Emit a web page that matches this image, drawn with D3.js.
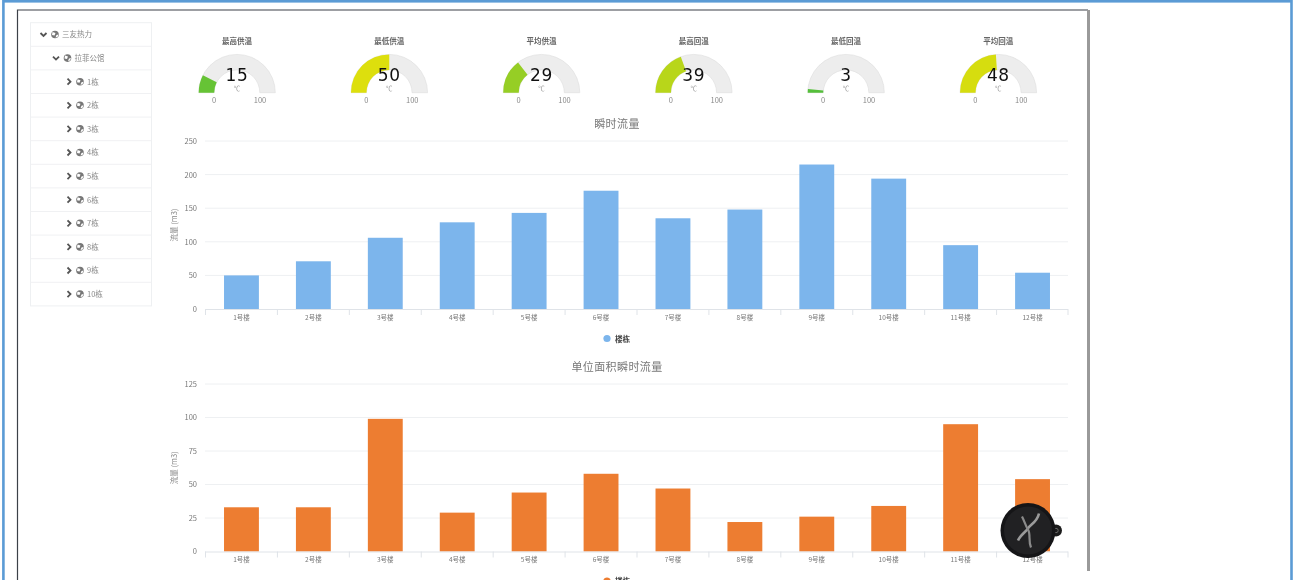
<!DOCTYPE html>
<html>
<head>
<meta charset="utf-8">
<script src="https://cdn.jsdelivr.net/npm/d3@7"></script>
<style>
  html, body { margin: 0; padding: 0; background: #fff; overflow: hidden; }
  svg { display: block; filter: blur(0.5px); }
  text { font-family: "Noto Sans CJK SC", "Noto Sans", sans-serif; }
  .axis path, .axis line { stroke: #dfe3e8; }
  .axis text { fill: #777; font-size: 7.5px; }
</style>
</head>
<body>
<div id="chart"></div>
<script>
// sidebar tree
var treeRows = ["三友热力", "拉菲公馆", "1栋", "2栋", "3栋", "4栋", "5栋", "6栋", "7栋", "8栋", "9栋", "10栋"];
var treeDepth = [0, 1, 2, 2, 2, 2, 2, 2, 2, 2, 2, 2];

// gauges
var gaugeTitles = ["最高供温", "最低供温", "平均供温", "最高回温", "最低回温", "平均回温"];
var gaugeValues = [15, 50, 29, 39, 3, 48];

// bar charts
var buildings = ["1号楼", "2号楼", "3号楼", "4号楼", "5号楼", "6号楼", "7号楼", "8号楼", "9号楼", "10号楼", "11号楼", "12号楼"];
var flowValues = [50, 71, 106, 129, 143, 176, 135, 148, 215, 194, 95, 54];
var flowTicks = [0, 50, 100, 150, 200, 250];
var unitFlowValues = [33, 33, 99, 29, 44, 58, 47, 22, 26, 34, 95, 54];
var unitFlowTicks = [0, 25, 50, 75, 100, 125];

var w = 1293, h = 580;
var svg = d3.select("#chart").append("svg").attr("width", w).attr("height", h);

// outer blue frame and the inner screenshot edges
svg.append("rect").attr("x", 3.4).attr("y", 1.3).attr("width", w - 4.9).attr("height", h + 10)
   .attr("fill", "none").attr("stroke", "#5b9bd5").attr("stroke-width", 2.6);
svg.append("path").attr("d", "M17.5,580V10H1088")
   .attr("fill", "none").attr("stroke", "#3c4148").attr("stroke-width", 1.2);
svg.append("rect").attr("x", 1087).attr("y", 10).attr("width", 3).attr("height", 561).attr("fill", "#9a9a9a");

// tree
var rowH = 23.6, treeTop = 22.7;
var tree = svg.append("g");
tree.append("rect").attr("x", 30.5).attr("y", treeTop).attr("width", 121).attr("height", rowH * treeRows.length)
    .attr("fill", "#fff").attr("stroke", "#eef0f2");

var rows = tree.selectAll("g.row").data(treeRows).enter().append("g")
    .attr("class", "row")
    .attr("transform", function(d, i) { return "translate(" + (43.5 + treeDepth[i] * 12.5) + "," + (treeTop + rowH * (i + 0.5)) + ")"; });

rows.append("line")
    .attr("x1", function(d, i) { return 30.5 - (43.5 + treeDepth[i] * 12.5); })
    .attr("x2", function(d, i) { return 151.5 - (43.5 + treeDepth[i] * 12.5); })
    .attr("y1", rowH / 2).attr("y2", rowH / 2)
    .attr("stroke", function(d, i) { return i < treeRows.length - 1 ? "#f0f1f3" : "none"; });

// open rows point down, closed rows point right
rows.append("path")
    .attr("d", function(d, i) { return treeDepth[i] < 2 ? "M-3,-1.5L0,1.5L3,-1.5" : "M-1,-3L2,0L-1,3"; })
    .attr("fill", "none").attr("stroke", "#555").attr("stroke-width", 1.8);
rows.append("circle").attr("cx", 11.5).attr("r", 3.8).attr("fill", "#777");
rows.append("path").attr("d", "M9,-2.5L12,-1.5L11,1L8.5,0.5Z M13,0.5L15,0L14,2.5L12,3Z").attr("fill", "#fff");
rows.append("text").attr("x", 18.5).attr("y", 2.8).attr("font-size", 7.5).attr("fill", "#888").text(function(d) { return d; });

// gauges
var gaugeColor = d3.scaleLinear().domain([10, 50, 90]).range(["#55BF3B", "#DDDF0D", "#DF5353"]).clamp(true);
var gaugeX = d3.scalePoint().domain(gaugeTitles).range([237, 998.3]);
var gaugeAngle = d3.scaleLinear().domain([0, 100]).range([-Math.PI / 2, Math.PI / 2]);
var gaugeArc = d3.arc().innerRadius(22.8).outerRadius(38.3);

var gauges = svg.selectAll("g.gauge").data(gaugeTitles).enter().append("g")
    .attr("class", "gauge")
    .attr("transform", function(d) { return "translate(" + gaugeX(d) + ",92.7)"; });

gauges.append("path")
    .attr("d", gaugeArc({ startAngle: gaugeAngle(0), endAngle: gaugeAngle(100) }))
    .attr("fill", "#ededed").attr("stroke", "#ddd").attr("stroke-width", 0.6);
gauges.append("path")
    .attr("d", function(d, i) { return gaugeArc({ startAngle: gaugeAngle(0), endAngle: gaugeAngle(gaugeValues[i]) }); })
    .attr("fill", function(d, i) { return gaugeColor(gaugeValues[i]); });
gauges.append("text").attr("y", -49).attr("text-anchor", "middle").attr("font-size", 7.5)
    .attr("font-weight", "bold").attr("fill", "#666").text(function(d) { return d; });
gauges.append("text").attr("y", -12).attr("text-anchor", "middle")
    .attr("font-size", 17).attr("letter-spacing", 0.6).attr("fill", "#111")
    .style("font-family", "'DejaVu Sans'")
    .text(function(d, i) { return gaugeValues[i]; });
gauges.append("text").attr("y", -1.5).attr("text-anchor", "middle").attr("font-size", 6.5).attr("fill", "#999").text("℃");
gauges.append("text").attr("x", -23).attr("y", 10).attr("text-anchor", "middle").attr("font-size", 7.5).attr("fill", "#888").text("0");
gauges.append("text").attr("x", 23).attr("y", 10).attr("text-anchor", "middle").attr("font-size", 7.5).attr("fill", "#888").text("100");

// one bar chart panel
function drawBars(opts) {
  var x = d3.scaleBand().domain(buildings).range([205.5, 1068.5]).paddingInner(0.515).paddingOuter(0.2575);
  var y = d3.scaleLinear().domain([0, opts.ticks[opts.ticks.length - 1]]).range([opts.bottom, opts.top]);
  var g = svg.append("g");

  g.append("text").attr("x", 617).attr("y", opts.top - 13).attr("text-anchor", "middle")
   .attr("font-size", 11).attr("letter-spacing", 0.4).attr("fill", "#777").text(opts.title);

  var yAxis = d3.axisLeft(y).tickValues(opts.ticks).tickSize(0).tickPadding(8);
  g.append("g").attr("class", "axis").attr("transform", "translate(205,0)").call(yAxis)
   .call(function(s) { s.select(".domain").remove(); });

  g.append("g").selectAll("line").data(opts.ticks.slice(1)).enter().append("line")
   .attr("x1", 205).attr("x2", 1068)
   .attr("y1", function(d) { return y(d); }).attr("y2", function(d) { return y(d); })
   .attr("stroke", "#eef0f2");

  g.append("text")
   .attr("transform", "translate(176.5," + (opts.top + opts.bottom) / 2 + ") rotate(-90)")
   .attr("text-anchor", "middle").attr("font-size", 7.5).attr("fill", "#888").text("流量 (m3)");

  g.selectAll("rect.bar").data(opts.values).enter().append("rect")
   .attr("class", "bar")
   .attr("x", function(d, i) { return x(buildings[i]); })
   .attr("width", x.bandwidth())
   .attr("y", function(d) { return y(d); })
   .attr("height", function(d) { return opts.bottom - y(d); })
   .attr("fill", opts.color);

  var xAxis = d3.axisBottom(x).tickSize(0).tickPadding(6);
  var ax = g.append("g").attr("class", "axis").attr("transform", "translate(0," + opts.bottom + ")").call(xAxis);
  ax.select(".domain").remove();
  ax.selectAll("text").style("font-size", "6.5px");

  // ticks sit on band edges, not band centres
  var edges = buildings.map(function(b) { return x(b) - x.step() * x.paddingInner() / 2; });
  edges.push(1068);
  g.append("line").attr("x1", 205).attr("x2", 1068).attr("y1", opts.bottom + 0.5).attr("y2", opts.bottom + 0.5).attr("stroke", "#dfe3e8");
  g.append("g").selectAll("line").data(edges).enter().append("line")
   .attr("x1", function(d) { return d; }).attr("x2", function(d) { return d; })
   .attr("y1", opts.bottom).attr("y2", opts.bottom + 6).attr("stroke", "#dfe3e8");

  g.append("circle").attr("cx", 607).attr("cy", opts.bottom + 29.5).attr("r", 3.6).attr("fill", opts.color);
  g.append("text").attr("x", 615).attr("y", opts.bottom + 32.5).attr("font-size", 7.5)
   .attr("font-weight", "bold").attr("fill", "#444").text("楼栋");
}

drawBars({ title: "瞬时流量", values: flowValues, ticks: flowTicks, top: 141, bottom: 309, color: "#7cb5ec" });
drawBars({ title: "单位面积瞬时流量", values: unitFlowValues, ticks: unitFlowTicks, top: 384, bottom: 551.5, color: "#ed7d31" });

// floating round badge over the corner of the last bar
var badge = svg.append("g").attr("transform", "translate(1028,530.5)");
badge.append("circle").attr("cx", 28).attr("r", 6).attr("fill", "#1c1c1c");
badge.append("circle").attr("cx", 28).attr("r", 2.2).attr("fill", "none").attr("stroke", "#666");
badge.append("circle").attr("r", 27.5).attr("fill", "#151517");
badge.append("circle").attr("r", 24).attr("fill", "#212123");
badge.append("path").attr("d", "M11,-17C9,-8 2,-6 0,-2C-3,2 -8,5 -10,10").attr("fill", "none").attr("stroke", "#9a9a9a").attr("stroke-width", 2.6);
badge.append("path").attr("d", "M-6,-14C-3,-8 -2,-4 0,-1C3,4 0,10 3,17").attr("fill", "none").attr("stroke", "#8a8a8a").attr("stroke-width", 2.2);
</script>
</body>
</html>
